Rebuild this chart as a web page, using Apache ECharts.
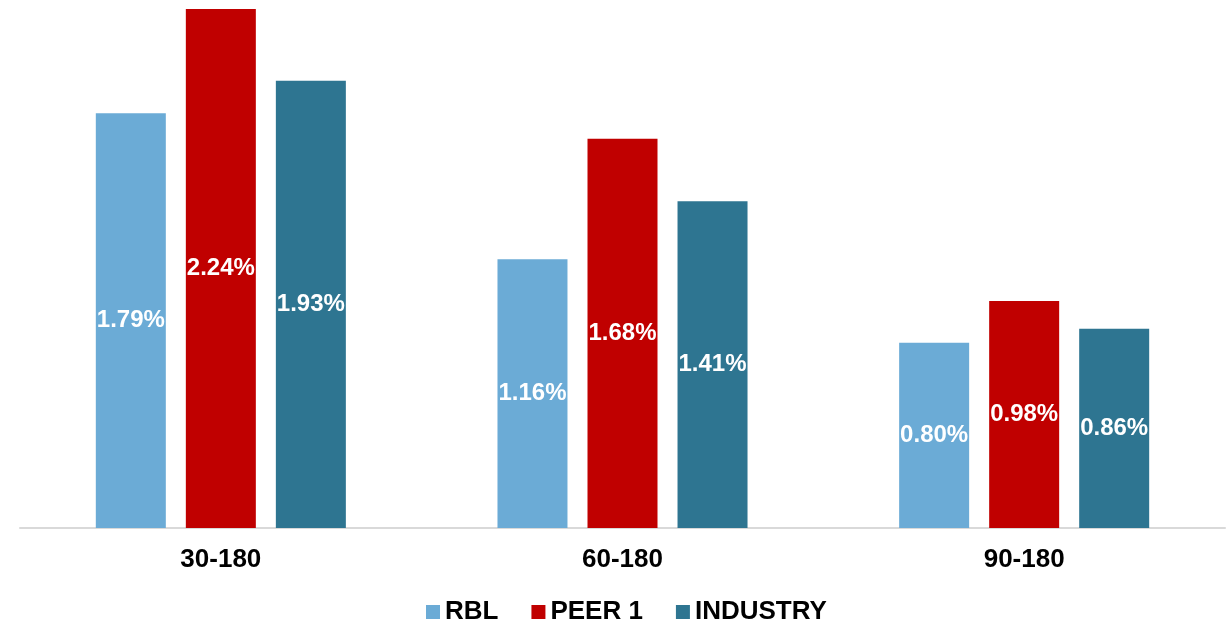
<!DOCTYPE html>
<html>
<head>
<meta charset="utf-8">
<script src="https://cdn.jsdelivr.net/npm/echarts@6/dist/echarts.min.js"></script>
<style>
    html, body { margin: 0; padding: 0; background: #fff; }
    #chart { width: 1230px; height: 628px; }
</style>
</head>
<body>
<div id="chart"></div>
<script>
const categories = ['30-180', '60-180', '90-180']
const rblValues = [1.79, 1.16, 0.80]
const peerValues = [2.24, 1.68, 0.98]
const industryValues = [1.93, 1.41, 0.86]

const chart = echarts.init(document.getElementById('chart'))

const barLabel = {
    show: true,
    position: 'inside',
    color: '#ffffff',
    fontFamily: 'Liberation Sans, Arial, sans-serif',
    fontSize: 24,
    fontWeight: 'bold',
    formatter: p => p.value.toFixed(2) + '%'
}

const makeSeries = (name, data, color) => ({
    name,
    type: 'bar',
    data,
    barWidth: 70,
    barGap: '28.6%',
    itemStyle: { color },
    label: barLabel
})

chart.setOption({
    animation: false,
    grid: { left: 20, right: 5, top: 9, bottom: 100 },
    legend: {
        bottom: 3,
        padding: 0,
        left: 426,
        itemWidth: 14,
        itemHeight: 14,
        itemGap: 33,
        icon: 'rect',
        textStyle: {
            color: '#000',
            fontFamily: 'Liberation Sans, Arial, sans-serif',
            fontSize: 26,
            fontWeight: 'bold'
        }
    },
    xAxis: {
        type: 'category',
        data: categories,
        axisLine: { lineStyle: { color: '#d9d9d9', width: 2 } },
        axisTick: { show: false },
        axisLabel: {
            color: '#000',
            margin: 19,
            fontFamily: 'Liberation Sans, Arial, sans-serif',
            fontSize: 26,
            fontWeight: 'bold'
        }
    },
    yAxis: {
        type: 'value',
        min: 0,
        max: 2.24,
        show: false,
        splitLine: { show: false }
    },
    series: [
        makeSeries('RBL', rblValues, '#6BABD6'),
        makeSeries('PEER 1', peerValues, '#C00000'),
        makeSeries('INDUSTRY', industryValues, '#2E7591')
    ]
})
</script>
</body>
</html>
